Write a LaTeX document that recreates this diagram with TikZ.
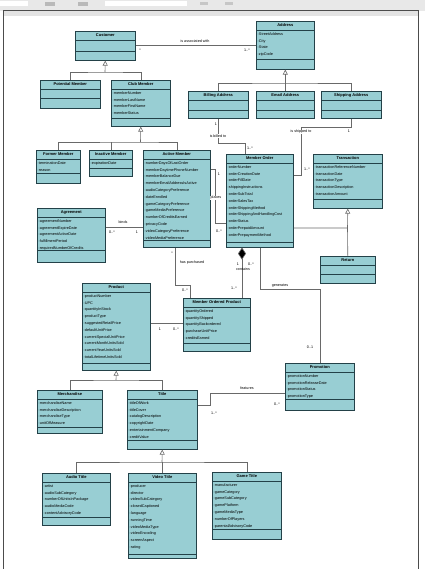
\documentclass[tikz,border=0pt]{standalone}
\usepackage{fontspec}
\setmainfont{Liberation Sans}
\usetikzlibrary{arrows.meta,calc}
\definecolor{clsfill}{RGB}{152,206,211}
\definecolor{clsdraw}{RGB}{35,65,72}
\definecolor{connc}{RGB}{105,105,105}
\tikzset{
 clsbox/.style={draw=clsdraw, fill=clsfill, line width=0.6pt, inner sep=0pt, rectangle},
 clsline/.style={draw=clsdraw, line width=0.5pt},
 clstitle/.style={font=\fontsize{4}{4}\selectfont\bfseries, inner sep=0pt},
 clsattr/.style={font=\fontsize{3.8}{6.8}\selectfont, align=left, inner sep=0pt, anchor=north west},
 conn/.style={draw=connc, line width=0.6pt},
 gen/.style={conn, -{Triangle[open, length=5pt, width=5pt]}},
 comp/.style={conn, {Diamond[length=12pt, width=8pt, fill=black]}-},
 lbl/.style={font=\fontsize{3.7}{4}\selectfont, inner sep=0.5pt},
}
\newcommand\umlclass[8]{%
 \node[clsbox, minimum width=#4pt, minimum height=#5pt, anchor=north west] (#1) at (#2,#3) {};
 \draw[clsline] ($(#1.north west)+(0,9)$) -- ($(#1.north east)+(0,9)$);
 \draw[clsline] ($(#1.north west)+(0,#6)$) -- ($(#1.north east)+(0,#6)$);
 \node[clstitle] (#1t) at ($(#1.north)+(0,4.5)$) {#7};
 \node[clsattr] (#1a) at ($(#1.north west)+(1.5,11.3)$) {#8};
}
\begin{document}
\begin{tikzpicture}[x=1pt,y=-1pt]
\fill[white] (0,0) rectangle (425,569);
\useasboundingbox (0,0) rectangle (425,569);
% window frame
\fill[gray!18] (0,0) rectangle (425,11);
\fill[white] (0,1.5) rectangle (28,6.5);
\fill[white] (105,1.5) rectangle (187,6.5);
\fill[gray!55] (45,2) rectangle (55,6);
\fill[gray!55] (78,2) rectangle (88,6);
\fill[gray!45] (200,2.5) rectangle (208,5.5);
\fill[gray!45] (225,2.5) rectangle (233,5.5);
\fill[gray!22] (3,11) rectangle (419,16);
\draw[gray!60!black, line width=1pt] (3,11) -- (419,11);
\draw[gray!60!black, line width=1.5pt] (3.5,11) -- (3.5,569);
\draw[gray!60!black, line width=1.5pt] (418.5,11) -- (418.5,569);

% classes
\umlclass{Customer}{75}{31}{60}{29}{20}{Customer}{}
\umlclass{Address}{256}{21}{58}{48}{38}{Address}{-StreetAddress\\-City\\-State\\-zipCode}
\umlclass{PM}{40}{80}{60}{28}{18}{Potential Member}{}
\umlclass{CM}{111}{80}{59}{46}{38}{Club Member}{-memberNumber\\-memberLastName\\-memberFirstName\\-memberStatus}
\umlclass{BA}{188}{91}{60}{27}{19}{Billing Address}{}
\umlclass{EA}{256}{91}{58}{27}{19}{Email Address}{}
\umlclass{SA}{321}{91}{60}{27}{19}{Shipping Address}{}
\umlclass{FM}{36}{150}{44}{33}{23}{Former Member}{-terminationDate\\-reason}
\umlclass{IM}{89}{150}{43}{26}{18}{Inactive Member}{-expirationDate}
\umlclass{AM}{143}{150}{67}{97}{90}{Active Member}{-numberDaysOfLastOrder\\-memberDaytimePhoneNumber\\-memberBalanceDue\\-memberEmailAddressIsActive\\-audioCategoryPreference\\-dateEnrolled\\-gameCategoryPreference\\-gameMediaPreference\\-numberOfCreditsEarned\\-privacyCode\\-videoCategoryPreference\\-videoMediaPreference}
\umlclass{MO}{226}{154}{67}{93}{88}{Member Order}{-orderNumber\\-orderCreationDate\\-orderFillDate\\-shippingInstructions\\-orderSubTotal\\-orderSalesTax\\-orderShippingMethod\\-orderShippingAndHandlingCost\\-orderStatus\\-orderPrepaidAmount\\-orderPrepaymentMethod}
\umlclass{TR}{313}{154}{69}{54}{45}{Transaction}{-transactionReferenceNumber\\-transactionDate\\-transactionType\\-transactionDescription\\-transactionAmount}
\umlclass{RT}{320}{256}{55}{27}{18}{Return}{}
\umlclass{AG}{37}{208}{68}{54}{42}{Agreement}{-agreementNumber\\-agreementExpireDate\\-agreementActiveDate\\-fulfillmentPeriod\\-requiredNumberOfCredits}
\umlclass{PD}{82}{283}{68}{87}{80}{Product}{-productNumber\\-UPC\\-quantityInStock\\-productType\\-suggestedRetailPrice\\-defaultUnitPrice\\-currentSpecialUnitPrice\\-currentMonthUnitsSold\\-currentYearUnitsSold\\-totalLifetimeUnitsSold}
\umlclass{MOP}{183}{298}{67}{53}{45}{Member Ordered Product}{-quantityOrdered\\-quantityShipped\\-quantityBackordered\\-purchaseUnitPrice\\-creditsEarned}
\umlclass{PR}{285}{363}{69}{47}{36}{Promotion}{-promotionNumber\\-promotionReleaseDate\\-promotionStatus\\-promotionType}
\umlclass{ME}{37}{390}{65}{43}{37}{Merchandise}{-merchandiseName\\-merchandiseDescription\\-merchandiseType\\-unitOfMeasure}
\umlclass{TI}{127}{390}{70}{59}{50}{Title}{-titleOfWork\\-titleCover\\-catalogDescription\\-copyrightDate\\-entertainmentCompany\\-creditValue}
\umlclass{AT}{42}{473}{68}{52}{44}{Audio Title}{-artist\\-audioSubCategory\\-numberOfUnitsInPackage\\-audioMediaCode\\-contentAdvisoryCode}
\umlclass{VT}{128}{473}{68}{85}{81}{Video Title}{-producer\\-director\\-videoSubCategory\\-closedCaptioned\\-language\\-runningTime\\-videoMediaType\\-videoEncoding\\-screenAspect\\-rating}
\umlclass{GT}{212}{472}{69}{67}{57}{Game Title}{-manufacturer\\-gameCategory\\-gameSubCategory\\-gamePlatform\\-gameMediaType\\-numberOfPlayers\\-parentalAdvisoryCode}

% generalizations
\coordinate (cg) at (105,72);
\draw[conn] (PM.north) |- (cg) -| (CM.north);
\draw[gen] (cg) -- (Customer.south);
\coordinate (ag) at (285,83);
\draw[conn] (BA.north) |- (ag) -| (SA.north);
\draw[gen] (EA.north) -- (Address.south);
\coordinate (cmg) at (140.5,142);
\draw[conn] (FM.north) |- (cmg) -| (AM.north);
\draw[conn] (IM.north) -- (IM.north |- cmg);
\draw[gen] (cmg) -- (CM.south);
\coordinate (tr) at (347.5,228);
\draw[conn] (tr -| MO.east) -- (tr) -- (RT.north);
\draw[gen] (tr) -- (TR.south);
\coordinate (pg) at (116,380);
\draw[conn] (ME.north) |- (pg) -| (TI.north);
\draw[gen] (pg) -- (PD.south);
\coordinate (tg) at (162,462);
\draw[conn] (AT.north) |- (tg) -| (GT.north);
\draw[conn] (VT.north) -- (VT.north |- tg);
\draw[gen] (tg) -- (TI.south);

% associations
\draw[conn] (Customer.east) -- (Customer.east -| Address.west);
\node[lbl] (l1) at (195,41) {is associated with};
\node[lbl] (l2) at (140,50) {*};
\node[lbl] (l3) at (247,50) {1..*};

\coordinate (b1) at (245,143);
\draw[conn] (BA.south) |- (b1) -- (b1 |- MO.north);
\node[lbl] (l4) at (216,124) {1};
\node[lbl, fill=white] (l5) at (218,136) {is billed to};
\node[lbl] (l6) at (250,148) {1..*};

\coordinate (s1) at (301,127);
\coordinate (s2) at (301,175);
\draw[conn] (SA.south) |- (s1) -- (s2) -- (s2 -| MO.east);
\node[lbl, fill=white] (l7) at (301,132) {is shipped to};
\node[lbl] (l8) at (349,131) {1};
\node[lbl] (l9) at (307,169) {1..*};

\coordinate (p1) at (215,169);
\coordinate (p2) at (215,223);
\draw[conn] (p1 -| AM.east) -- (p1) -- (p2) -- (p2 -| MO.west);
\node[lbl] (l10) at (219,174) {1};
\node[lbl, fill=white] (l11) at (216,198) {places};
\node[lbl] (l12) at (219,231) {0..*};

\coordinate (bd) at (120,227);
\draw[conn] (bd -| AG.east) -- (bd -| AM.west);
\node[lbl] (l13) at (123,222) {binds};
\node[lbl] (l14) at (112,232) {0..*};
\node[lbl] (l15) at (137,232) {1};

\coordinate (h1) at (175,285);
\coordinate (h2) at (190,285);
\draw[conn] (h1 |- AM.south) -- (h1) -- (h2) -- (h2 |- MOP.north);
\node[lbl] (l16) at (172,253) {*};
\node[lbl] (l17) at (192,263) {has purchased};
\node[lbl] (l18) at (185,290) {0..*};

\coordinate (c1) at (242,270);
\draw[comp] (c1 |- MO.south) -- (c1 |- MOP.north);
\node[lbl] (l19) at (238,264) {1};
\node[lbl] (l20) at (251,264) {0..*};
\node[lbl] (l21) at (243,269) {contains};
\node[lbl] (l22) at (234,288) {1..*};

\coordinate (g1) at (260,289);
\draw[conn] (g1 |- MO.south) -- (g1) -| (PR.north);
\node[lbl] (l23) at (280,286) {generates};
\node[lbl] (l24) at (310,347) {0..1};

\coordinate (f1) at (210,405);
\coordinate (f2) at (210,393);
\draw[conn] (f1 -| TI.east) -- (f1) -- (f2) -- (f2 -| PR.west);
\node[lbl] (l25) at (247,388) {features};
\node[lbl] (l26) at (214,413) {1..*};
\node[lbl] (l27) at (277,404) {0..*};

\coordinate (pm) at (165,323);
\draw[conn] (pm -| PD.east) -- (pm -| MOP.west);
\node[lbl] (l28) at (160,329) {1};
\node[lbl] (l29) at (176,329) {0..*};
\end{tikzpicture}
\end{document}
